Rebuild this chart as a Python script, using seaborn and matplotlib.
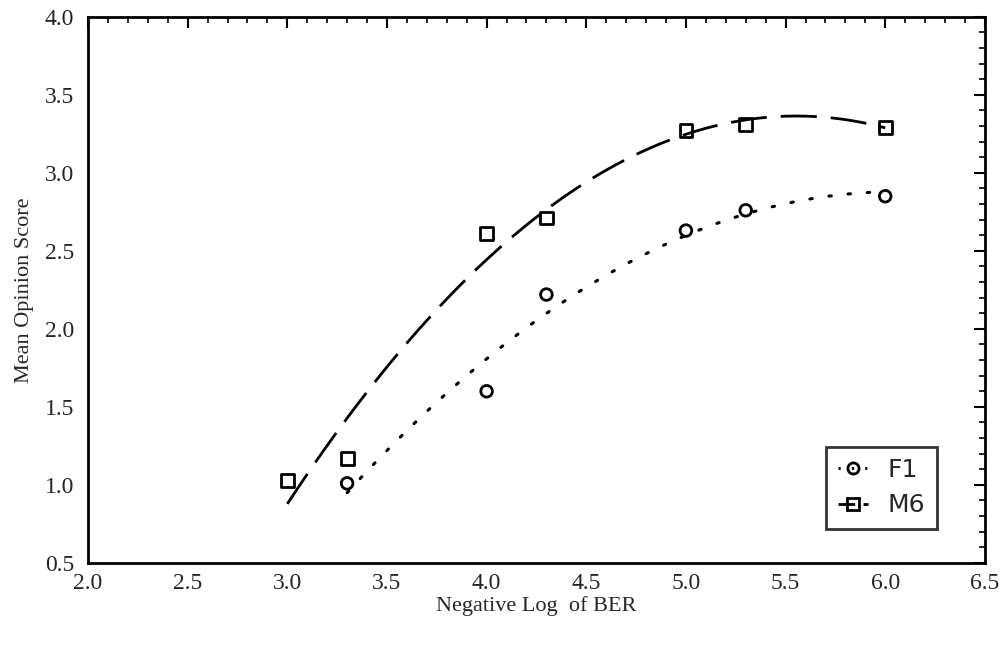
import numpy as np
import pandas as pd
import matplotlib
matplotlib.use('Agg')
import matplotlib.pyplot as plt
import seaborn as sns
from matplotlib.ticker import MultipleLocator
from matplotlib.lines import Line2D

# data
x_m6 = [3.0, 3.3, 4.0, 4.3, 5.0, 5.3, 6.0]
y_m6 = [1.03, 1.17, 2.61, 2.71, 3.27, 3.31, 3.29]
x_f1 = [3.3, 4.0, 4.3, 5.0, 5.3, 6.0]
y_f1 = [1.01, 1.60, 2.22, 2.63, 2.76, 2.85]

sns.set_style('white')
plt.rcParams['font.family'] = ['Liberation Serif', 'DejaVu Serif']

df_f1 = pd.DataFrame({'x': x_f1, 'y': y_f1})
df_m6 = pd.DataFrame({'x': x_m6, 'y': y_m6})

# quadratic fits through each speaker's points
def fit(xs, ys):
    c = np.polyfit(xs, ys, 2)
    xx = np.linspace(min(xs), max(xs), 200)
    return pd.DataFrame({'x': xx, 'y': np.polyval(c, xx)})

fit_f1 = fit(x_f1, y_f1)
fit_m6 = fit(x_m6, y_m6)

fig = plt.figure(figsize=(10.06, 6.47), dpi=100)
ax = fig.add_axes([0.0875, 0.13, 0.8915, 0.844])

sns.lineplot(data=fit_m6, x='x', y='y', color='black', lw=2, ax=ax, legend=False)
ax.lines[-1].set_dashes([13, 5])
sns.lineplot(data=fit_f1, x='x', y='y', color='black', lw=2.2, ax=ax, legend=False)
ax.lines[-1].set_dashes([0.8, 5.5])
ax.lines[-1].set_dash_capstyle('round')

sns.scatterplot(data=df_m6, x='x', y='y', marker='s', s=85, facecolor='none',
                edgecolor='black', linewidth=2, ax=ax, legend=False)
sns.scatterplot(data=df_f1, x='x', y='y', marker='o', s=70, facecolor='none',
                edgecolor='black', linewidth=2, ax=ax, legend=False)

ax.set_xlim(2.0, 6.5)
ax.set_ylim(0.5, 4.0)
ax.xaxis.set_major_locator(MultipleLocator(0.5))
ax.yaxis.set_major_locator(MultipleLocator(0.5))
ax.xaxis.set_minor_locator(MultipleLocator(0.1))
ax.yaxis.set_minor_locator(MultipleLocator(0.1))
ax.xaxis.set_major_formatter(lambda v, p: f'{v:.1f}')
ax.yaxis.set_major_formatter(lambda v, p: f'{v:.1f}')
ax.tick_params(which='both', direction='in', top=True, right=True, labelsize=17, color='black')
ax.tick_params(which='major', length=8, width=1.5)
ax.tick_params(axis='y', which='major', pad=10)
ax.tick_params(axis='x', which='major', pad=7)
ax.tick_params(which='minor', length=4, width=1.2)
for s in ax.spines.values():
    s.set_linewidth(2)
    s.set_color('black')

ax.set_xlabel('Negative Log  of BER', fontsize=16, labelpad=2)
ax.set_ylabel('Mean Opinion Score', fontsize=16, labelpad=8)

h = [Line2D([], [], color='black', ls=(0, (0.8, 4)), lw=2, marker='o', ms=8,
            mfc='none', mec='black', mew=2),
     Line2D([], [], color='black', ls=(0, (6, 3)), lw=2, marker='s', ms=9,
            mfc='none', mec='black', mew=2)]
leg = ax.legend(h, ['F1', 'M6'], loc='lower right', bbox_to_anchor=(0.96, 0.04),
                frameon=True, fancybox=False, edgecolor='black', handlelength=1.2,
                prop={'family': 'DejaVu Sans', 'size': 18}, borderpad=0.45,
                labelspacing=0.45, handletextpad=0.8)
leg.get_frame().set_linewidth(2)

fig.savefig('out.png', dpi=100, facecolor='white')
